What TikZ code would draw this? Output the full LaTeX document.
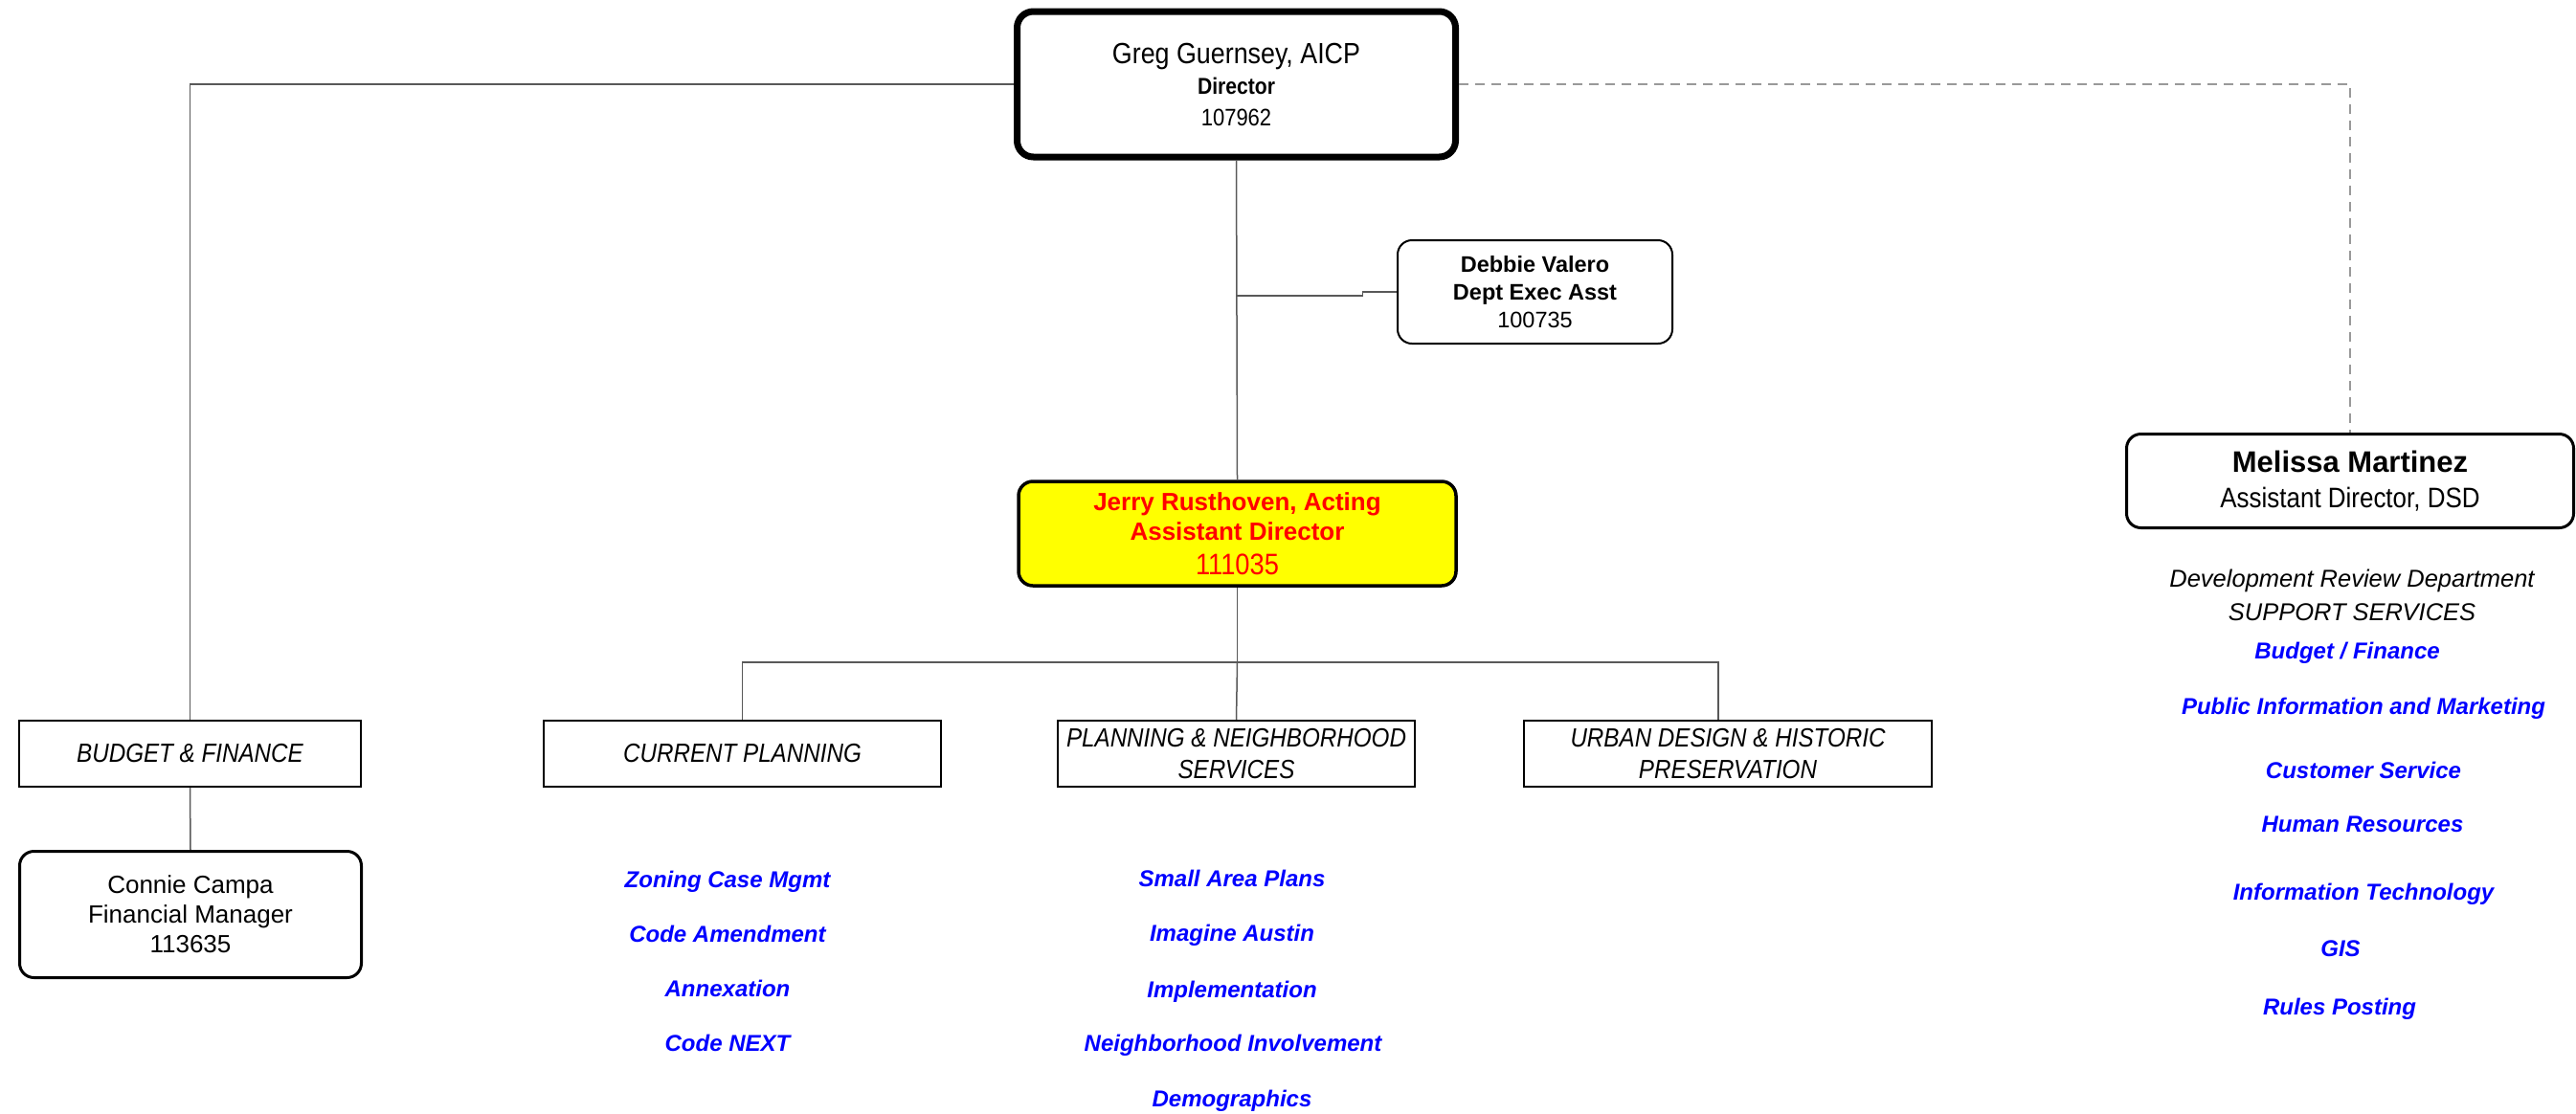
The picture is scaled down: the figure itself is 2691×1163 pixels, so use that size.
\documentclass[tikz,border=0pt]{standalone}
\usepackage{fontspec}
\setmainfont{Liberation Sans}
\newfontfamily\narrowf[FakeStretch=0.88]{Liberation Sans}
\newcommand\fsz[2]{\fontsize{#1}{#2}\selectfont}
\definecolor{itemblue}{RGB}{0,0,255}
\definecolor{jred}{RGB}{255,0,0}
\definecolor{jyellow}{RGB}{255,255,0}
\begin{document}
\begin{tikzpicture}[x=1pt,y=-1pt,
  conn/.style={draw=black!65, line width=1.5pt},
  dashconn/.style={draw=black!40, line width=1.5pt, dash pattern=on 10pt off 7pt},
  rbox/.style={draw=black, rounded corners=15pt, inner sep=0pt, align=center},
  sbox/.style={draw=black, line width=1.8pt, inner sep=0pt, align=center,
    minimum height=69pt, font=\narrowf\itshape\fsz{27.5}{33}},
  item/.style={font=\fsz{24}{28}\bfseries\itshape, text=itemblue, anchor=base, inner sep=0pt}]

\useasboundingbox (0,0) rectangle (2691,1163);

% main boxes
\node[rbox, line width=7pt, minimum width=458pt, minimum height=152pt, rounded corners=17pt,
      font=\fsz{30}{32.5}] (dir) at (1291.5,88)
  {{\narrowf\fsz{30.5}{32.5}Greg Guernsey, AICP}\\{\narrowf\bfseries\fsz{24}{32.5}Director}\\{\narrowf\fsz{25}{32.5}107962}};

\node[rbox, line width=2pt, minimum width=287pt, minimum height=108pt,
      font=\bfseries\fsz{23.5}{29}] (dv) at (1603.5,305)
  {Debbie Valero\\Dept Exec Asst\\{\mdseries 100735}};

\node[rbox, line width=3.5pt, fill=jyellow, text=jred, minimum width=457pt, minimum height=109pt,
      font=\bfseries\fsz{26}{31}] (jr) at (1292.5,557.5)
  {Jerry Rusthoven, Acting\\Assistant Director\\[5pt]{\narrowf\mdseries\fsz{31}{31}111035}};

\node[rbox, line width=3pt, minimum width=467pt, minimum height=98pt,
      font=\fsz{30}{37}] (mm) at (2455,502.5)
  {{\bfseries\fsz{31}{37}Melissa Martinez}\\{\narrowf\fsz{29.5}{37}Assistant Director, DSD}};

% section boxes
\node[sbox, minimum width=357pt] (bf) at (198.5,787.5) {BUDGET \& FINANCE};
\node[sbox, minimum width=415pt] (cp) at (775.5,787.5) {CURRENT PLANNING};
\node[sbox, minimum width=373pt] (pn) at (1291.5,787.5) {PLANNING \& NEIGHBORHOOD\\SERVICES};
\node[sbox, minimum width=426pt] (ud) at (1805,787.5) {URBAN DESIGN \& HISTORIC\\PRESERVATION};

\node[rbox, line width=3pt, minimum width=357pt, minimum height=132pt,
      font=\fsz{26}{31}] (cc) at (199,955.5)
  {Connie Campa\\Financial Manager\\113635};

% connectors
\draw[conn] (dir.west) -| (bf.north);
\draw[dashconn] (dir.east) -| (mm.north);
\draw[conn] (dir.south) -- (jr.north);
\coordinate (dvj) at (dir.south |- 0,309);
\draw[conn] (dvj) -- ++(132,0) |- (dv.west);
\coordinate (bus) at (jr.south |- 0,692);
\draw[conn] (jr.south) -- (bus);
\draw[conn] (cp.north) |- (bus) -| ([xshift=-10pt]ud.north);
\draw[conn] (bus) -- (pn.north);
\draw[conn] (bf.south) -- (cc.north);

% support services
\node[font=\itshape\fsz{25.5}{35}, align=center, inner sep=0pt] (drd) at (2457,621.5)
  {Development Review Department\\SUPPORT SERVICES};

\node[item] (s1) at (2452,688) {Budget / Finance};
\node[item] (s2) at (2469,746) {Public Information and Marketing};
\node[item] (s3) at (2469,813) {Customer Service};
\node[item] (s4) at (2468,869) {Human Resources};
\node[item] (s5) at (2469,940) {Information Technology};
\node[item] (s6) at (2445,999) {GIS};
\node[item] (s7) at (2444,1060) {Rules Posting};

% current planning items
\node[item] (c1) at (760,927) {Zoning Case Mgmt};
\node[item] (c2) at (760,984) {Code Amendment};
\node[item] (c3) at (760,1041) {Annexation};
\node[item] (c4) at (760,1098) {Code NEXT};

% planning items
\node[item] (p1) at (1287,926) {Small Area Plans};
\node[item] (p2) at (1287,983) {Imagine Austin};
\node[item] (p3) at (1287,1042) {Implementation};
\node[item] (p4) at (1288,1098) {Neighborhood Involvement};
\node[item] (p5) at (1287,1156) {Demographics};
\end{tikzpicture}
\end{document}
